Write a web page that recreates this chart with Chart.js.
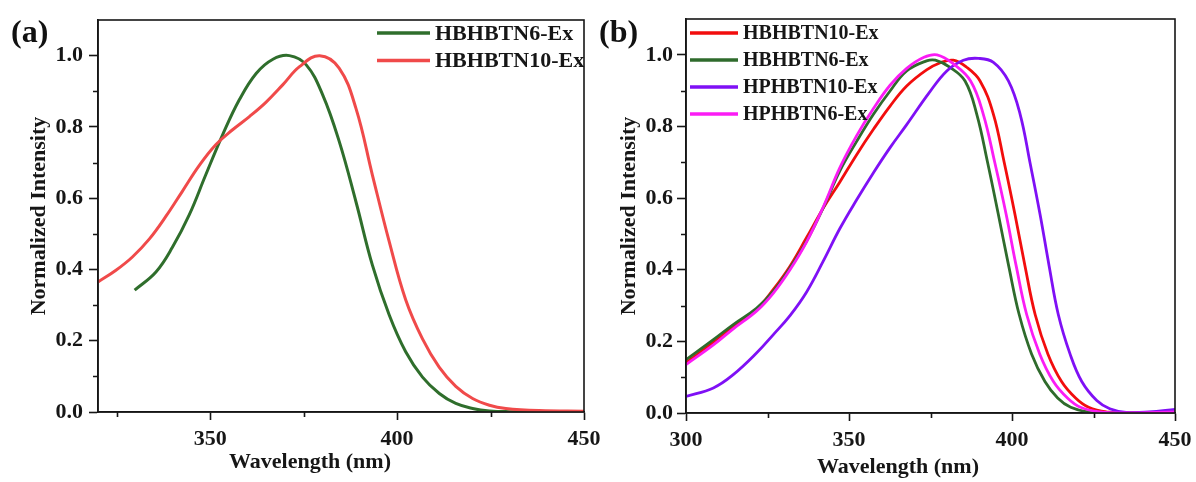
<!DOCTYPE html>
<html>
<head>
<meta charset="utf-8">
<script src="https://cdn.jsdelivr.net/npm/chart.js@4.4.1/dist/chart.umd.min.js"></script>
<style>
  html, body { margin: 0; padding: 0; background: #fff; }
  body { width: 1196px; height: 482px; position: relative; overflow: hidden; }
  .panel { position: absolute; top: 0; height: 482px; }
  #wrap-a { left: 0; width: 616px; }
  #wrap-b { left: 600px; width: 606px; }
  .tag { position: absolute; font: bold 32px 'Liberation Serif', serif; color: #111; line-height: 1; }
</style>
</head>
<body>
<div class="panel" id="wrap-a"><canvas id="chart-a" width="616" height="482"></canvas></div>
<div class="panel" id="wrap-b"><canvas id="chart-b" width="606" height="482"></canvas></div>
<div class="tag" style="left:11px; top:15px;">(a)</div>
<div class="tag" style="left:599px; top:15px;">(b)</div>

<script>
// ---- panel (a) data ----
const aGreenX = [329.8, 335.5, 339.9, 344.4, 348.8, 353.3, 357.8, 362.3, 366.8, 371.2, 375.7, 380.1, 384.5, 389, 393.4, 397.9, 402.3, 406.8, 411.3, 415.7, 420.2, 424.7, 430, 450];
const aGreenY = [0.342, 0.393, 0.462, 0.553, 0.665, 0.777, 0.876, 0.95, 0.99, 1.0, 0.974, 0.89, 0.76, 0.59, 0.412, 0.272, 0.169, 0.098, 0.052, 0.024, 0.010, 0.003, 0.001, 0.0];
const aRedX = [320, 324.7, 329.2, 333.7, 338.1, 342.6, 347.1, 351.5, 356, 360.5, 364.9, 369.4, 373.9, 379.3, 384.5, 389, 393.4, 397.9, 402.3, 406.8, 411.3, 415.7, 420.2, 424.7, 429.1, 438, 450];
const aRedY = [0.365, 0.397, 0.435, 0.485, 0.548, 0.62, 0.692, 0.75, 0.792, 0.829, 0.869, 0.918, 0.969, 1.0, 0.965, 0.852, 0.665, 0.478, 0.315, 0.205, 0.125, 0.072, 0.038, 0.019, 0.010, 0.004, 0.002];

// ---- panel (b) data ----
const bRedX = [300, 308.4, 314.5, 321.7, 326.8, 331.9, 337, 342.1, 347.2, 352.4, 357.5, 362.6, 367.7, 373.8, 378, 382, 386, 390.2, 394.3, 397.6, 400.9, 404, 407.1, 411, 415.2, 419.5, 423.5, 429, 437, 450];
const bRedY = [0.14, 0.197, 0.24, 0.29, 0.345, 0.41, 0.49, 0.572, 0.645, 0.722, 0.792, 0.857, 0.913, 0.958, 0.978, 0.985, 0.966, 0.927, 0.834, 0.70, 0.555, 0.41, 0.275, 0.165, 0.088, 0.042, 0.016, 0.003, 0.0, 0.003];
const bGreenX = [300, 308.4, 314.5, 321.7, 326.8, 331.9, 337, 342.1, 347.2, 352.4, 357.5, 362.6, 367.7, 373.8, 376.5, 381, 385.6, 389.2, 392.5, 395.8, 399, 402.2, 406, 410.1, 414, 418, 424, 435, 450];
const bGreenY = [0.149, 0.205, 0.247, 0.293, 0.340, 0.405, 0.48, 0.573, 0.676, 0.759, 0.834, 0.899, 0.955, 0.983, 0.985, 0.965, 0.927, 0.834, 0.70, 0.555, 0.41, 0.275, 0.165, 0.088, 0.042, 0.016, 0.002, 0.0, 0.0];
const bPurpleX = [300, 308.4, 314.5, 321.7, 326.8, 331.9, 337, 342.1, 347.2, 352.4, 357.5, 362.6, 367.7, 374.5, 380, 385.1, 389.7, 394.3, 398.9, 402.5, 405.5, 408.6, 411.4, 414.2, 417.8, 421.4, 426, 430, 435, 442, 450];
const bPurpleY = [0.046, 0.07, 0.107, 0.168, 0.219, 0.272, 0.338, 0.424, 0.515, 0.596, 0.671, 0.741, 0.805, 0.893, 0.955, 0.985, 0.99, 0.979, 0.927, 0.834, 0.70, 0.555, 0.41, 0.275, 0.165, 0.088, 0.035, 0.012, 0.002, 0.003, 0.01];
const bPinkX = [300, 308.4, 314.5, 321.7, 326.8, 331.9, 337, 342.1, 347.2, 352.4, 357.5, 362.6, 367.7, 373, 377, 382, 387.3, 391.2, 394.7, 398.2, 401.3, 404.5, 408.5, 412.7, 417, 421, 427, 435, 450];
const bPinkY = [0.135, 0.19, 0.235, 0.285, 0.335, 0.40, 0.478, 0.575, 0.685, 0.775, 0.85, 0.915, 0.962, 0.993, 1.0, 0.975, 0.927, 0.834, 0.70, 0.555, 0.41, 0.275, 0.165, 0.088, 0.042, 0.016, 0.003, 0.0, 0.003];

// ---- ticks ----
const yMajor = [0, 0.2, 0.4, 0.6, 0.8, 1.0];
const yMinor = [0.1, 0.3, 0.5, 0.7, 0.9];
const aXMajor = [350, 400, 450];
const bXMajor = [300, 350, 400, 450];
const xMinor = [325, 375, 425];

const INK = '#161616';
const FONT = "'Liberation Serif', 'Times New Roman', serif";

function pts(xs, ys) {
    return xs.map((x, i) => ({ x: x, y: ys[i] }));
}

// frame on all four sides, minor ticks, x title and legend
const decorPlugin = {
    id: 'decor',
    afterDraw(chart, args, opts) {
        const ctx = chart.ctx;
        const area = chart.chartArea;
        const x = chart.scales.x, y = chart.scales.y;
        ctx.save();
        ctx.strokeStyle = INK;
        ctx.lineWidth = 1.6;
        ctx.strokeRect(area.left, area.top, area.right - area.left, area.bottom - area.top);

        ctx.beginPath();
        xMinor.forEach(v => {
            const px = Math.round(x.getPixelForValue(v)) + 0.5;
            ctx.moveTo(px, area.bottom);
            ctx.lineTo(px, area.bottom + 5);
        });
        yMinor.forEach(v => {
            const py = Math.round(y.getPixelForValue(v)) + 0.5;
            ctx.moveTo(area.left, py);
            ctx.lineTo(area.left - 5, py);
        });
        ctx.stroke();

        // x axis title (sits left of centre in the original)
        ctx.fillStyle = INK;
        ctx.font = 'bold 22px ' + FONT;
        ctx.textAlign = 'center';
        ctx.textBaseline = 'middle';
        ctx.fillText('Wavelength (nm)', opts.titleX, opts.titleY);

        // legend
        ctx.font = 'bold ' + opts.legendSize + 'px ' + FONT;
        ctx.textAlign = 'left';
        chart.data.datasets.forEach((ds, i) => {
            const ly = opts.legendY + i * opts.legendGap;
            ctx.strokeStyle = ds.borderColor;
            ctx.lineWidth = 3.5;
            ctx.beginPath();
            ctx.moveTo(opts.legendX, ly);
            ctx.lineTo(opts.legendX + opts.legendLen, ly);
            ctx.stroke();
            ctx.fillStyle = INK;
            ctx.fillText(ds.label, opts.legendX + opts.legendLen + 5, ly + 1);
        });
        ctx.restore();
    }
};

function makeChart(id, datasets, cfg) {
    const ctx = document.getElementById(id).getContext('2d');
    return new Chart(ctx, {
        type: 'line',
        data: { datasets: datasets },
        options: {
            responsive: false,
            animation: false,
            devicePixelRatio: 1,
            layout: { padding: { top: cfg.top, right: cfg.right, left: 0, bottom: 0 } },
            elements: {
                point: { radius: 0 },
                line: { borderWidth: cfg.lineWidth, tension: 0.4 }
            },
            plugins: {
                legend: { display: false },
                tooltip: { enabled: false },
                decor: cfg.decor
            },
            scales: {
                x: {
                    type: 'linear',
                    min: cfg.xMin,
                    max: 450,
                    afterBuildTicks: s => { s.ticks = cfg.xMajor.map(v => ({ value: v })); },
                    afterFit: s => { s.height = cfg.xHeight; },
                    grid: { drawOnChartArea: false, tickLength: 8, tickWidth: 1.6, tickColor: INK },
                    border: { color: INK, width: 1.6 },
                    ticks: {
                        color: INK,
                        padding: 6,
                        maxRotation: 0,
                        font: { family: FONT, weight: 'bold', size: 22 },
                        callback: v => String(v)
                    }
                },
                y: {
                    min: 0,
                    max: 1.1,
                    afterBuildTicks: s => { s.ticks = yMajor.map(v => ({ value: v })); },
                    afterFit: s => { s.width = cfg.yWidth; },
                    grid: { drawOnChartArea: false, tickLength: 9, tickWidth: 1.6, tickColor: INK },
                    border: { color: INK, width: 1.6 },
                    title: {
                        display: true,
                        text: 'Normalized Intensity',
                        color: INK,
                        font: { family: FONT, weight: 'bold', size: 22 },
                        padding: { top: cfg.yTitlePad, bottom: 0 }
                    },
                    ticks: {
                        color: INK,
                        padding: cfg.yTickPad,
                        font: { family: FONT, weight: 'bold', size: 22 },
                        callback: v => v.toFixed(1)
                    }
                }
            }
        },
        plugins: [decorPlugin]
    });
}

document.addEventListener('DOMContentLoaded', function() {
    makeChart('chart-a', [
        { label: 'HBHBTN6-Ex', data: pts(aGreenX, aGreenY), borderColor: '#2f6e2c', order: 1 },
        { label: 'HBHBTN10-Ex', data: pts(aRedX, aRedY), borderColor: '#f04a4a', order: 0 }
    ], {
        top: 20, right: 32, xMin: 320, xMajor: aXMajor, xHeight: 70, yWidth: 98, yTitlePad: 26, yTickPad: 6, lineWidth: 3,
        decor: { titleX: 310, titleY: 462, legendX: 377, legendY: 33, legendGap: 27.4, legendLen: 53, legendSize: 22 }
    });

    makeChart('chart-b', [
        { label: 'HBHBTN10-Ex', data: pts(bRedX, bRedY), borderColor: '#f20d0d', order: 3 },
        { label: 'HBHBTN6-Ex', data: pts(bGreenX, bGreenY), borderColor: '#2f6b2c', order: 2 },
        { label: 'HPHBTN10-Ex', data: pts(bPurpleX, bPurpleY), borderColor: '#7f10f5', order: 1 },
        { label: 'HPHBTN6-Ex', data: pts(bPinkX, bPinkY), borderColor: '#fb1cf5', order: 0 }
    ], {
        top: 19, right: 31, xMin: 300, xMajor: bXMajor, xHeight: 69, yWidth: 86, yTitlePad: 16, yTickPad: 4, lineWidth: 2.8,
        decor: { titleX: 298, titleY: 467, legendX: 90, legendY: 33, legendGap: 27, legendLen: 48, legendSize: 20 }
    });
});
</script>
</body>
</html>
